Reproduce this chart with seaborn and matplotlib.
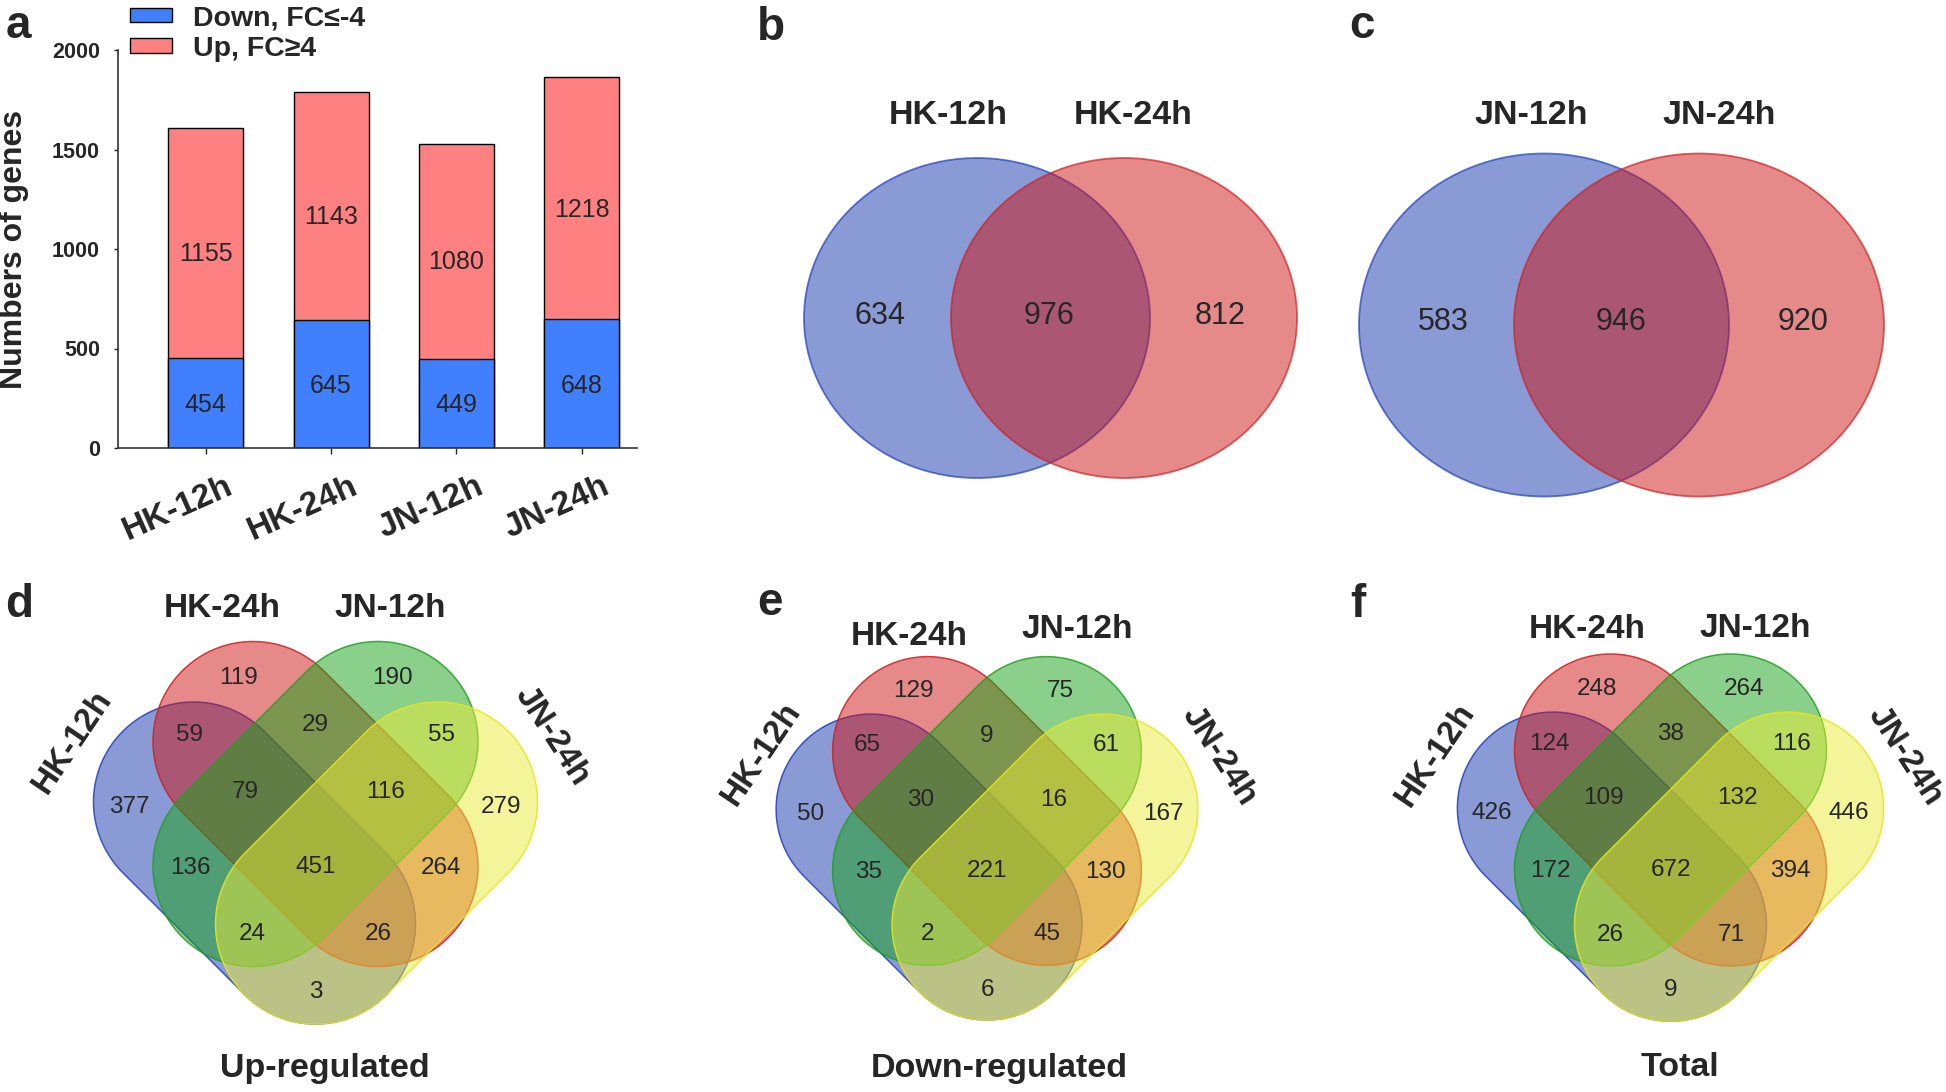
import matplotlib
matplotlib.use('Agg')
import numpy as np
import pandas as pd
import matplotlib.pyplot as plt
import matplotlib.transforms as mtrans
from matplotlib.patches import Ellipse, Patch, Polygon
import seaborn as sns

# ---- data ----
conditions = ['HK-12h', 'HK-24h', 'JN-12h', 'JN-24h']
down_genes = [454, 645, 449, 648]
up_genes = [1155, 1143, 1080, 1218]

# two-set venns: left only, shared, right only
hk_counts = [634, 976, 812]
jn_counts = [583, 946, 920]

# four-set venns, A=HK-12h, B=HK-24h, C=JN-12h, D=JN-24h
regions = ['A', 'B', 'C', 'D', 'AB', 'BC', 'CD', 'AC', 'BD', 'AD',
           'ABC', 'BCD', 'ACD', 'ABD', 'ABCD']
up_regulated = [377, 119, 190, 279, 59, 29, 55, 136, 264, 3, 79, 116, 24, 26, 451]
down_regulated = [50, 129, 75, 167, 65, 9, 61, 35, 130, 6, 30, 16, 2, 45, 221]
total_genes = [426, 248, 264, 446, 124, 38, 116, 172, 394, 9, 109, 132, 26, 71, 672]

W, H = 1946, 1092
sns.set_style('ticks')
plt.rcParams['font.family'] = ['Liberation Sans', 'DejaVu Sans']

fig = plt.figure(figsize=(W / 100, H / 100), dpi=100)

# ---- panel a: stacked bars ----
df = pd.DataFrame({'condition': conditions, 'down': down_genes, 'up': up_genes})
df['total'] = df['down'] + df['up']

ax = fig.add_axes([118 / W, 1 - 448 / H, 519 / W, 398 / H])
sns.barplot(data=df, x='condition', y='total', color='#ff8080', saturation=1,
            width=0.6, edgecolor='black', linewidth=1, errorbar=None, ax=ax)
sns.barplot(data=df, x='condition', y='down', color='#4080ff', saturation=1,
            width=0.6, edgecolor='black', linewidth=1, errorbar=None, ax=ax)

for i, (d, u) in enumerate(zip(df['down'], df['up'])):
    ax.text(i, d * 0.48, str(d), ha='center', va='center', fontsize=18)
    ax.text(i, d + u * 0.45, str(u), ha='center', va='center', fontsize=18)

ax.set_xlim(-0.70, 3.44)
ax.set_ylim(0, 2000)
ax.set_yticks([0, 500, 1000, 1500, 2000])
sns.despine(ax=ax)
for sp in ax.spines.values():
    sp.set_linewidth(1.2)
    sp.set_color('#333333')
ax.set_xlabel('')
ax.set_ylabel('Numbers of genes', fontsize=23, fontweight='bold')
ax.yaxis.set_label_coords(-0.1715, 0.5)
ax.tick_params(axis='y', length=3, width=1, pad=10, labelsize=15.5)
ax.tick_params(axis='x', length=4.3, width=1, labelsize=24)
for lab in ax.get_yticklabels():
    lab.set_fontweight('bold')
shift = mtrans.ScaledTranslation(29 / 100, -34 / 100, fig.dpi_scale_trans)
for lab in ax.get_xticklabels():
    lab.set_fontweight('bold')
    lab.set_rotation(24)
    lab.set_ha('right')
    lab.set_va('baseline')
    lab.set_rotation_mode('anchor')
    lab.set_transform(lab.get_transform() + shift)

handles = [Patch(facecolor='#4080ff', edgecolor='black', linewidth=1),
           Patch(facecolor='#ff8080', edgecolor='black', linewidth=1)]
ax.legend(handles, ['Down, FC≤-4', 'Up, FC≥4'], loc='upper left',
          bbox_to_anchor=(130 / W, 1 - 5 / H), bbox_transform=fig.transFigure,
          frameon=False, borderpad=0, borderaxespad=0, handlelength=1.48,
          handleheight=0.4, handletextpad=0.74, labelspacing=0.16,
          prop={'size': 20.5, 'weight': 'bold'})

# ---- overlay in pixel coordinates for the venn panels ----
ov = fig.add_axes([0, 0, 1, 1])
ov.set_xlim(0, W)
ov.set_ylim(H, 0)
ov.axis('off')

fills = {'A': '#1537ad', 'B': '#cd1515', 'C': '#17a317', 'D': '#ebeb37'}
edges = {'A': '#2040c0', 'B': '#d02020', 'C': '#20a020', 'D': '#e6e620'}

# panel letters
for letter, x, y in [('a', 6, 38), ('b', 757, 40), ('c', 1349, 38),
                     ('d', 5, 617), ('e', 757, 615), ('f', 1350, 617)]:
    ov.text(x, y, letter, fontsize=33, fontweight='bold', ha='left', va='baseline')

# two-set venns
venn2_layout = [
    dict(counts=hk_counts, names=['HK-12h', 'HK-24h'], cy=318, cx=[977, 1124], size=(346, 320),
         text_x=[880, 1049, 1220], text_y=316, name_x=[948, 1133], name_y=124),
    dict(counts=jn_counts, names=['JN-12h', 'JN-24h'], cy=325, cx=[1544, 1699], size=(370, 343),
         text_x=[1443, 1621, 1803], text_y=322, name_x=[1531, 1719], name_y=124),
]
for p in venn2_layout:
    for key, x in zip(['A', 'B'], p['cx']):
        ov.add_patch(Ellipse((x, p['cy']), p['size'][0], p['size'][1],
                             facecolor=fills[key], alpha=0.5, edgecolor='none'))
        ov.add_patch(Ellipse((x, p['cy']), p['size'][0], p['size'][1],
                             facecolor='none', edgecolor=edges[key], alpha=0.7, linewidth=1.3))
    for val, x in zip(p['counts'], p['text_x']):
        ov.text(x, p['text_y'], str(val), fontsize=22, ha='center', va='center')
    for name, x in zip(p['names'], p['name_x']):
        ov.text(x, p['name_y'], name, fontsize=24.5, fontweight='bold', ha='center', va='baseline')


def stadium(p1, p2, r, n=80):
    # outline of a capsule between two circle centres
    p1, p2 = np.asarray(p1, float), np.asarray(p2, float)
    phi = np.arctan2(*(p2 - p1)[::-1])
    t2 = np.linspace(phi - np.pi / 2, phi + np.pi / 2, n)
    t1 = np.linspace(phi + np.pi / 2, phi + 3 * np.pi / 2, n)
    arc2 = p2 + r * np.column_stack([np.cos(t2), np.sin(t2)])
    arc1 = p1 + r * np.column_stack([np.cos(t1), np.sin(t1)])
    return np.vstack([arc2, arc1])


# four-set venns: capsule end centres relative to the shared B/C middle
RAD = 100
ends = {'A': ((-122, -2), (0, 120)), 'B': ((-62.5, -62.5), (62.5, 62.5)),
        'C': ((62.5, -62.5), (-62.5, 62.5)), 'D': ((122, -2), (0, 120))}
region_pos = {'A': (-186, 3), 'B': (-77, -126), 'C': (77, -126), 'D': (186, 3),
              'AB': (-126, -69), 'BC': (0, -79), 'CD': (126, -69), 'AC': (-125, 64),
              'BD': (125, 64), 'AD': (0, 188), 'ABC': (-70, -12), 'BCD': (70, -12),
              'ACD': (-63, 130), 'ABD': (63, 130), 'ABCD': (0, 63)}

venn4_layout = [
    dict(counts=up_regulated, title='Up-regulated', cx=315.5, cy=804, s=1.0, title_x=325,
         top=[(222, 617), (390, 617)], side=[(72, 742), (552, 736)]),
    dict(counts=down_regulated, title='Down-regulated', cx=987, cy=811, s=0.95, title_x=999,
         top=[(909, 645), (1077, 638)], side=[(761, 754), (1219, 756)]),
    dict(counts=total_genes, title='Total', cx=1670.5, cy=810, s=0.96, title_x=1680,
         top=[(1587, 638), (1755, 637)], side=[(1435, 755), (1905, 756)]),
]
for p in venn4_layout:
    cx, cy, s = p['cx'], p['cy'], p['s']
    for key in ['A', 'B', 'C', 'D']:
        e1, e2 = ends[key]
        pts = stadium((cx + s * e1[0], cy + s * e1[1]), (cx + s * e2[0], cy + s * e2[1]), s * RAD)
        ov.add_patch(Polygon(pts, closed=True, facecolor=fills[key], alpha=0.5, edgecolor='none'))
        ov.add_patch(Polygon(pts, closed=True, facecolor='none', edgecolor=edges[key],
                             alpha=0.85, linewidth=1.1))
    for reg, val in zip(regions, p['counts']):
        rx, ry = region_pos[reg]
        ov.text(cx + s * rx, cy + s * ry, str(val), fontsize=17.5, ha='center', va='center')
    ov.text(*p['top'][0], conditions[1], fontsize=24, fontweight='bold', ha='center', va='baseline')
    ov.text(*p['top'][1], conditions[2], fontsize=24, fontweight='bold', ha='center', va='baseline')
    ov.text(*p['side'][0], conditions[0], fontsize=24, fontweight='bold', ha='center',
            va='center', rotation=56, rotation_mode='anchor')
    ov.text(*p['side'][1], conditions[3], fontsize=24, fontweight='bold', ha='center',
            va='center', rotation=-57, rotation_mode='anchor')
    ov.text(p['title_x'], 1068, p['title'], fontsize=24.5, fontweight='bold', ha='center', va='center')

fig.savefig('out.png', dpi=100)
